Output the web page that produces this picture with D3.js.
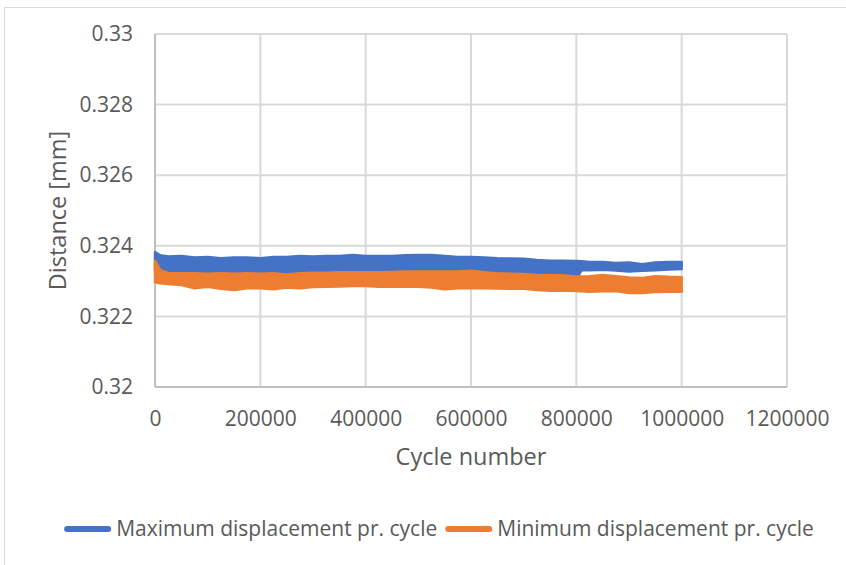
<!DOCTYPE html>
<html>
<head>
<meta charset="utf-8">
<script src="https://cdn.jsdelivr.net/npm/d3@7"></script>
<style>
  html, body { margin: 0; padding: 0; background: #ffffff; }
  svg { display: block; }
  text { font-family: "Open Sans", "Liberation Sans", sans-serif; fill: #595959; }
</style>
</head>
<body>
<svg id="chart" width="846" height="565"></svg>
<script>
// ---------------- data ----------------
const cycles = [0, 10000, 25000, 50000, 75000, 100000, 125000, 150000, 175000, 200000,
  225000, 250000, 275000, 300000, 325000, 350000, 375000, 400000, 425000, 450000,
  475000, 500000, 525000, 550000, 575000, 600000, 625000, 650000, 675000, 700000,
  725000, 750000, 775000, 800000, 810000, 825000, 850000, 875000, 900000, 925000,
  950000, 975000, 1000000];

// Maximum displacement pr. cycle: upper / lower envelope of the dense band (mm)
const maxUpper = [0.32382, 0.32373, 0.32370, 0.32371, 0.32367, 0.32368, 0.32365, 0.32367, 0.32367, 0.32365,
  0.32368, 0.32368, 0.32371, 0.32370, 0.32371, 0.32371, 0.32374, 0.32371, 0.32371, 0.32371,
  0.32373, 0.32374, 0.32374, 0.32371, 0.32368, 0.32368, 0.32367, 0.32365, 0.32364, 0.32363,
  0.32360, 0.32358, 0.32358, 0.32357, 0.32356, 0.32354, 0.32354, 0.32351, 0.32353, 0.32348,
  0.32353, 0.32354, 0.32354];
const maxLower = [0.32330, 0.32305, 0.32305, 0.32305, 0.32305, 0.32305, 0.32305, 0.32305, 0.32305, 0.32305,
  0.32305, 0.32305, 0.32305, 0.32305, 0.32305, 0.32305, 0.32305, 0.32305, 0.32305, 0.32305,
  0.32305, 0.32305, 0.32305, 0.32305, 0.32305, 0.32305, 0.32305, 0.32305, 0.32305, 0.32305,
  0.32305, 0.32305, 0.32305, 0.32305, 0.32331, 0.32331, 0.32332, 0.32330, 0.32327, 0.32329,
  0.32331, 0.32333, 0.32334];

// Minimum displacement pr. cycle: upper / lower envelope (mm)
const minUpper = [0.32358, 0.32331, 0.32323, 0.32322, 0.32322, 0.32321, 0.32322, 0.32321, 0.32322, 0.32321,
  0.32322, 0.32319, 0.32322, 0.32324, 0.32324, 0.32325, 0.32325, 0.32325, 0.32325, 0.32326,
  0.32327, 0.32327, 0.32327, 0.32327, 0.32327, 0.32329, 0.32325, 0.32322, 0.32321, 0.32320,
  0.32317, 0.32317, 0.32316, 0.32313, 0.32313, 0.32314, 0.32317, 0.32314, 0.32310, 0.32309,
  0.32314, 0.32312, 0.32311];
const minLower = [0.32297, 0.32294, 0.32292, 0.32289, 0.32280, 0.32284, 0.32278, 0.32275, 0.32280, 0.32280,
  0.32277, 0.32282, 0.32280, 0.32283, 0.32284, 0.32285, 0.32286, 0.32286, 0.32284, 0.32284,
  0.32284, 0.32284, 0.32282, 0.32277, 0.32280, 0.32280, 0.32280, 0.32279, 0.32278, 0.32278,
  0.32275, 0.32273, 0.32273, 0.32272, 0.32271, 0.32270, 0.32271, 0.32272, 0.32266, 0.32266,
  0.32269, 0.32270, 0.32270];

const seriesNames = ["Maximum displacement pr. cycle", "Minimum displacement pr. cycle"];
const seriesColors = ["#4472C4", "#ED7D31"];

const xTicks = [0, 200000, 400000, 600000, 800000, 1000000, 1200000];
const xTickLabels = ["0", "200000", "400000", "600000", "800000", "1000000", "1200000"];
const yTicks = [0.32, 0.322, 0.324, 0.326, 0.328, 0.33];
const yTickLabels = ["0.32", "0.322", "0.324", "0.326", "0.328", "0.33"];

const xTitle = "Cycle number";
const yTitle = "Distance [mm]";

// ---------------- drawing ----------------
const svg = d3.select("#chart");
const plot = { left: 155, right: 787, top: 34, bottom: 387 };

// chart border
svg.append("rect")
  .attr("x", 4.5).attr("y", 7.5)
  .attr("width", 900).attr("height", 600)
  .attr("fill", "#ffffff").attr("stroke", "#d9d9d9").attr("stroke-width", 1);

const x = d3.scaleLinear().domain([0, 1200000]).range([plot.left, plot.right]);
const y = d3.scaleLinear().domain([0.32, 0.33]).range([plot.bottom, plot.top]);

// gridlines
const grid = svg.append("g");
grid.selectAll("line.h").data(yTicks.slice(1)).join("line")
  .attr("x1", plot.left).attr("x2", plot.right)
  .attr("y1", d => y(d)).attr("y2", d => y(d))
  .attr("stroke", "#d9d9d9").attr("stroke-width", 2);
grid.selectAll("line.v").data(xTicks.slice(1)).join("line")
  .attr("y1", plot.top).attr("y2", plot.bottom)
  .attr("x1", d => x(d)).attr("x2", d => x(d))
  .attr("stroke", "#d9d9d9").attr("stroke-width", 2);

// axis lines
svg.append("line").attr("x1", plot.left).attr("x2", plot.right)
  .attr("y1", plot.bottom).attr("y2", plot.bottom)
  .attr("stroke", "#bfbfbf").attr("stroke-width", 2);
svg.append("line").attr("x1", plot.left).attr("x2", plot.left)
  .attr("y1", plot.top).attr("y2", plot.bottom)
  .attr("stroke", "#bfbfbf").attr("stroke-width", 2);

// axes (labels only)
const yAxis = d3.axisLeft(y).tickValues(yTicks)
  .tickFormat((d, i) => yTickLabels[i]).tickSize(0).tickPadding(22);
const gy = svg.append("g").attr("transform", `translate(${plot.left},0)`).call(yAxis);
gy.select(".domain").remove();
gy.selectAll("text").attr("font-size", 21).attr("fill", "#595959")
  .style("font-family", "'Open Sans', sans-serif");

const xAxis = d3.axisBottom(x).tickValues(xTicks)
  .tickFormat((d, i) => xTickLabels[i]).tickSize(0).tickPadding(24);
const gx = svg.append("g").attr("transform", `translate(0,${plot.bottom})`).call(xAxis);
gx.select(".domain").remove();
gx.selectAll("text").attr("font-size", 21).attr("fill", "#595959")
  .style("font-family", "'Open Sans', sans-serif");

// data bands
const bands = [
  cycles.map((c, i) => ({ c, lo: maxLower[i], hi: maxUpper[i] })),
  cycles.map((c, i) => ({ c, lo: minLower[i], hi: minUpper[i] }))
];
const area = d3.area().x(d => x(d.c)).y0(d => y(d.lo)).y1(d => y(d.hi));
svg.append("g").selectAll("path").data(bands).join("path")
  .attr("d", area)
  .attr("fill", (d, i) => seriesColors[i])
  .attr("stroke", (d, i) => seriesColors[i])
  .attr("stroke-width", 2.5)
  .attr("stroke-linejoin", "round");

// axis titles
svg.append("text")
  .attr("x", (plot.left + plot.right) / 2).attr("y", 465)
  .attr("text-anchor", "middle").attr("font-size", 23.5)
  .text(xTitle);
svg.append("text")
  .attr("transform", `translate(66,${(plot.top + plot.bottom) / 2}) rotate(-90)`)
  .attr("text-anchor", "middle").attr("font-size", 23.5)
  .text(yTitle);

// legend
const legend = svg.append("g");
const lineLen = 47, gapLT = 5, gapItems = 8, legendY = 529;
let cursor = 0;
seriesNames.forEach((name, i) => {
  const g = legend.append("g");
  g.append("line").attr("x1", 3).attr("x2", lineLen - 3)
    .attr("y1", 0).attr("y2", 0)
    .attr("stroke", seriesColors[i]).attr("stroke-width", 6)
    .attr("stroke-linecap", "round");
  const t = g.append("text").attr("x", lineLen + gapLT).attr("y", 0)
    .attr("dy", "0.35em").attr("font-size", 21).text(name);
  const w = lineLen + gapLT + t.node().getComputedTextLength();
  g.attr("transform", `translate(${cursor},${legendY})`);
  cursor += w + gapItems;
});
const total = cursor - gapItems;
legend.attr("transform", `translate(${439 - total / 2},0)`);
</script>
</body>
</html>
